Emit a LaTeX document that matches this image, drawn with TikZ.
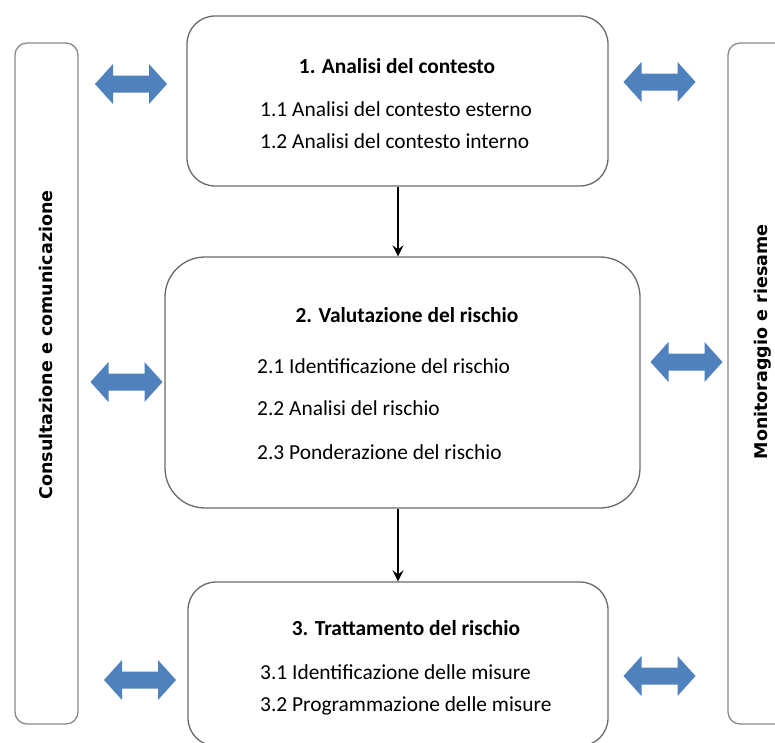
\documentclass[tikz,border=0pt]{standalone}
\usepackage{fontspec}
\setmainfont{Carlito}
\newfontfamily\colfont{DejaVu Sans}
\usetikzlibrary{arrows.meta}
\definecolor{arrowblue}{HTML}{4F81BD}
\definecolor{boxgray}{HTML}{6A6A6A}
\definecolor{colgray}{HTML}{8A8A8A}
\tikzset{
  procbox/.style={draw=boxgray, line width=1.3pt, rounded corners=#1, inner sep=0pt},
  colbox/.style={draw=colgray, line width=1.3pt, rounded corners=12pt, inner sep=0pt},
  title/.style={font=\fontsize{21.4}{25}\selectfont\bfseries, anchor=base, inner sep=0pt},
  item/.style={font=\fontsize{21.4}{25}\selectfont, anchor=base west, inner sep=0pt},
  coltext/.style={font=\colfont\bfseries\fontsize{17.5}{21}\selectfont, rotate=90, inner sep=0pt},
  flow/.style={draw=black, line width=2.2pt, -{Stealth[length=11pt,width=11pt,inset=4pt]}},
  dbl/.pic={\fill[arrowblue] (-36,0) -- (-18,-20) -- (-18,-8.5) -- (18,-8.5) -- (18,-20) -- (36,0) -- (18,20) -- (18,8.5) -- (-18,8.5) -- (-18,20) -- cycle;}
}
\begin{document}
\begin{tikzpicture}[x=1pt,y=-1pt]
\path[use as bounding box, clip] (0,0) rectangle (775,742);
\fill[white] (0,0) rectangle (775,742);
% side columns
\node[colbox, minimum width=63pt, minimum height=681pt] (lc) at (46.5,383.5) {};
\node[colbox, minimum width=72pt, minimum height=681pt] (rc) at (764,383.5) {};
\node[coltext] (lct) at (46,345) {Consultazione e comunicazione};
\node[coltext] (rct) at (763,342) {Monitoraggio e riesame};
% process boxes
\node[procbox=28pt, minimum width=421pt, minimum height=170pt] (b1) at (397.5,101) {};
\node[procbox=40pt, minimum width=475pt, minimum height=251pt] (b2) at (402.5,382.5) {};
\node[procbox=28pt, minimum width=420pt, minimum height=164pt] (b3) at (398,664) {};
% texts box 1
\node[title] (t1) at (397,73) {1. Analisi del contesto};
\node[item] (t11) at (260,116) {1.1 Analisi del contesto esterno};
\node[item] (t12) at (260,148) {1.2 Analisi del contesto interno};
% texts box 2
\node[title] (t2) at (407,322) {2. Valutazione del rischio};
\node[item] (t21) at (257,373) {2.1 Identificazione del rischio};
\node[item] (t22) at (257,415) {2.2 Analisi del rischio};
\node[item] (t23) at (257,459) {2.3 Ponderazione del rischio};
% texts box 3
\node[title] (t3) at (406,635) {3. Trattamento del rischio};
\node[item] (t31) at (260,679) {3.1 Identificazione delle misure};
\node[item] (t32) at (260,711) {3.2 Programmazione delle misure};
% flow arrows
\draw[flow] ([xshift=0.5pt]b1.south) -- ([xshift=0.5pt]b1.south |- b2.north);
\draw[flow] ([xshift=-4.5pt]b2.south) -- ([xshift=-4.5pt]b2.south |- b3.north);
% double arrows
\pic at (131,84) {dbl};
\pic at (659.5,82) {dbl};
\pic at (126.5,382) {dbl};
\pic at (686.5,362) {dbl};
\pic at (140,680) {dbl};
\pic at (659.5,676) {dbl};
\end{tikzpicture}
\end{document}
